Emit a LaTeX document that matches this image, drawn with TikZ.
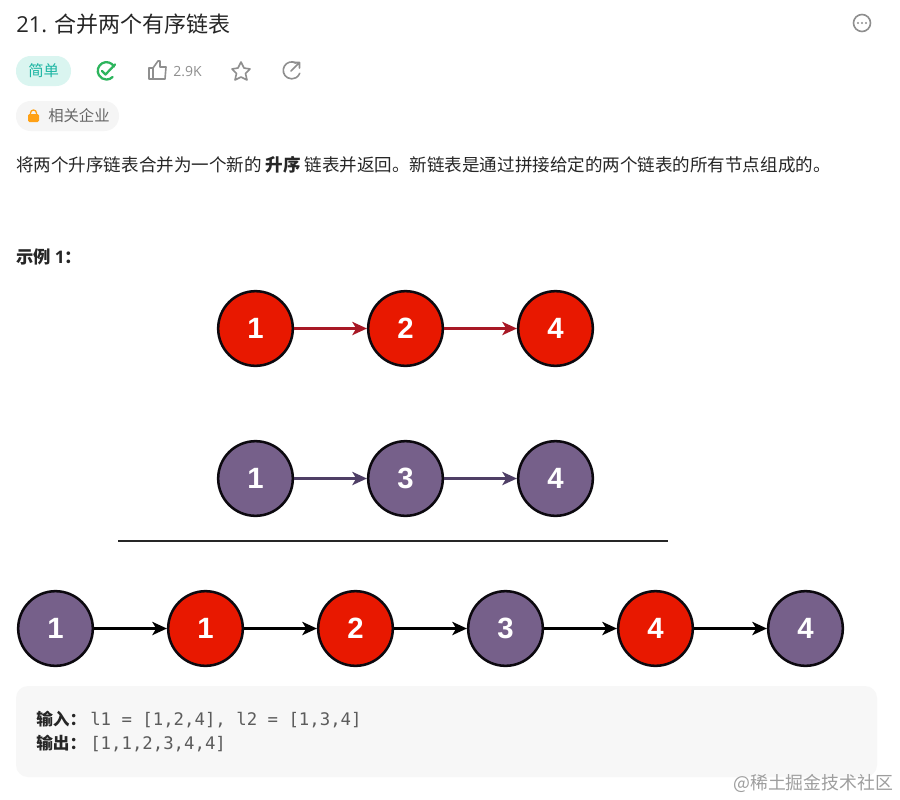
\documentclass[tikz,border=0pt]{standalone}
\usepackage{fontspec}
\setmainfont{Open Sans}
\setmonofont{DejaVu Sans Mono}
\newfontfamily\cjk{Noto Sans CJK SC}
\newfontfamily\numfont{Liberation Sans}
\usetikzlibrary{arrows.meta}
\usetikzlibrary{positioning}
\definecolor{redfill}{HTML}{E81800}
\definecolor{redline}{HTML}{A81825}
\definecolor{purplefill}{HTML}{76608A}
\definecolor{purpleline}{HTML}{4F3F66}
\definecolor{darktext}{HTML}{262626}
\definecolor{greytext}{HTML}{8F8F8F}
\definecolor{codegrey}{HTML}{5C5C5C}
\definecolor{pillteal}{HTML}{DAF5F0}
\definecolor{tealtext}{HTML}{1CB5A3}
\definecolor{checkgreen}{HTML}{2DB55D}
\definecolor{lockorange}{HTML}{FFA116}
\tikzset{
  listnode/.style={circle, draw=black!85!purpleline, line width=1.9pt, minimum size=56pt, inner sep=0pt,
    text=white, font=\numfont\fontsize{22}{22}\selectfont\bfseries},
  rednode/.style={listnode, fill=redfill},
  purplenode/.style={listnode, fill=purplefill},
  linkarrow/.style={-{Stealth[length=11pt,width=10pt,inset=3pt]}, line width=1.6pt},
  icon/.style={draw=greytext, line width=1.2pt, line join=round, line cap=round},
  label/.style={anchor=base west, inner sep=0pt, text=darktext}
}
\begin{document}
\begin{tikzpicture}[x=0.75pt,y=-0.75pt]
\useasboundingbox (0,0) rectangle (900,800);
\fill[white] (0,0) rectangle (900,800);

% header
\node[label, font=\fontsize{16.5}{20}\selectfont] (title) at (16,32) {21. {\cjk 合并两个有序链表}};
\draw[draw=greytext, line width=1.2pt] (862,23) circle (8.5);
\foreach \x in {858,862,866} {
  \fill[greytext] (\x,23) circle (1.1);
}

% badges
\fill[pillteal, rounded corners=11pt] (16,56) rectangle (71,86);
\node[label, font=\cjk\fontsize{11.5}{13}\selectfont, text=tealtext] (easy) at (28,76) {简单};
\draw[draw=checkgreen, line width=1.7pt, line cap=round] (114,66.5) arc (-30:-315:8.7);
\draw[draw=checkgreen, line width=1.7pt, line cap=round, line join=round] (102,71) -- (105.5,74.5) -- (115,64.5);
\draw[icon] (149,68) rectangle (153,79);
\draw[icon] (153,68) -- (158,61) -- (160,61) -- (160,67) -- (166,67) -- (165,79) -- (153,79);
\node[label, font=\fontsize{10.5}{12}\selectfont, text=greytext] (likes) at (173,76) {2.9K};
\draw[icon] (241,62) -- (244,68) -- (250,69) -- (245.5,73.5) -- (247,80) -- (241,77) -- (235,80) -- (236.5,73.5) -- (232,69) -- (238,68) -- cycle;
\draw[icon] (296,63) arc (-60:-340:8.5);
\draw[icon] (291,71) -- (299,63) (294,62.5) -- (299.5,62.5) -- (299.5,68);
\fill[black!4, rounded corners=11pt] (16,101) rectangle (119,131);
\fill[lockorange, rounded corners=1] (28,114) rectangle (39,122);
\draw[lockorange, line width=1pt] (30.5,114) -- (30.5,113) arc (180:360:3) -- (36.5,114);
\node[label, font=\cjk\fontsize{11.5}{13}\selectfont, text=black!60] (company) at (48,121) {相关企业};

% description
\node[label, font=\cjk\fontsize{13.15}{15}\selectfont] (desc) at (16,171) {将两个升序链表合并为一个新的 \textbf{升序} 链表并返回。新链表是通过拼接给定的两个链表的所有节点组成的。};
\node[label, font=\cjk\fontsize{13}{15}\selectfont\bfseries] (example) at (16,263) {示例 {\rmfamily 1}：};

% first list
\node[rednode] (a1) at (255.5,328.5) {1};
\node[rednode] (a2) at (405.5,328.5) {2};
\node[rednode] (a3) at (555.5,328.5) {4};
\draw[linkarrow, redline] (a1) -- (a2);
\draw[linkarrow, redline] (a2) -- (a3);

% second list
\node[purplenode] (b1) at (255.5,478.5) {1};
\node[purplenode] (b2) at (405.5,478.5) {3};
\node[purplenode] (b3) at (555.5,478.5) {4};
\draw[linkarrow, purpleline] (b1) -- (b2);
\draw[linkarrow, purpleline] (b2) -- (b3);

\draw[draw=darktext, line width=2pt] (118,541) -- (668,541);

% merged list
\node[purplenode] (c1) at (55.5,628.5) {1};
\node[rednode] (c2) at (205.5,628.5) {1};
\node[rednode] (c3) at (355.5,628.5) {2};
\node[purplenode] (c4) at (505.5,628.5) {3};
\node[rednode] (c5) at (655.5,628.5) {4};
\node[purplenode] (c6) at (805.5,628.5) {4};
\foreach \i/\j in {c1/c2,c2/c3,c3/c4,c4/c5,c5/c6} {
  \draw[linkarrow, black] (\i) -- (\j);
}

% code block
\fill[black!3, rounded corners=9] (16,686) rectangle (877,777);
\node[label, font=\cjk\fontsize{12.5}{15}\selectfont\bfseries] (input) at (36,725) {输入：};
\node[label, font=\ttfamily\fontsize{13}{15}\selectfont, text=codegrey] (inputval) at (90,725) {l1 = [1,2,4], l2 = [1,3,4]};
\node[label, font=\cjk\fontsize{12.5}{15}\selectfont\bfseries] (output) at (36,749) {输出：};
\node[label, font=\ttfamily\fontsize{13}{15}\selectfont, text=codegrey] (outputval) at (90,749) {[1,1,2,3,4,4]};
\node[label, font=\cjk\fontsize{13.4}{15}\selectfont, text=black!38] (mark) at (733,789) {@稀土掘金技术社区};
\end{tikzpicture}
\end{document}
